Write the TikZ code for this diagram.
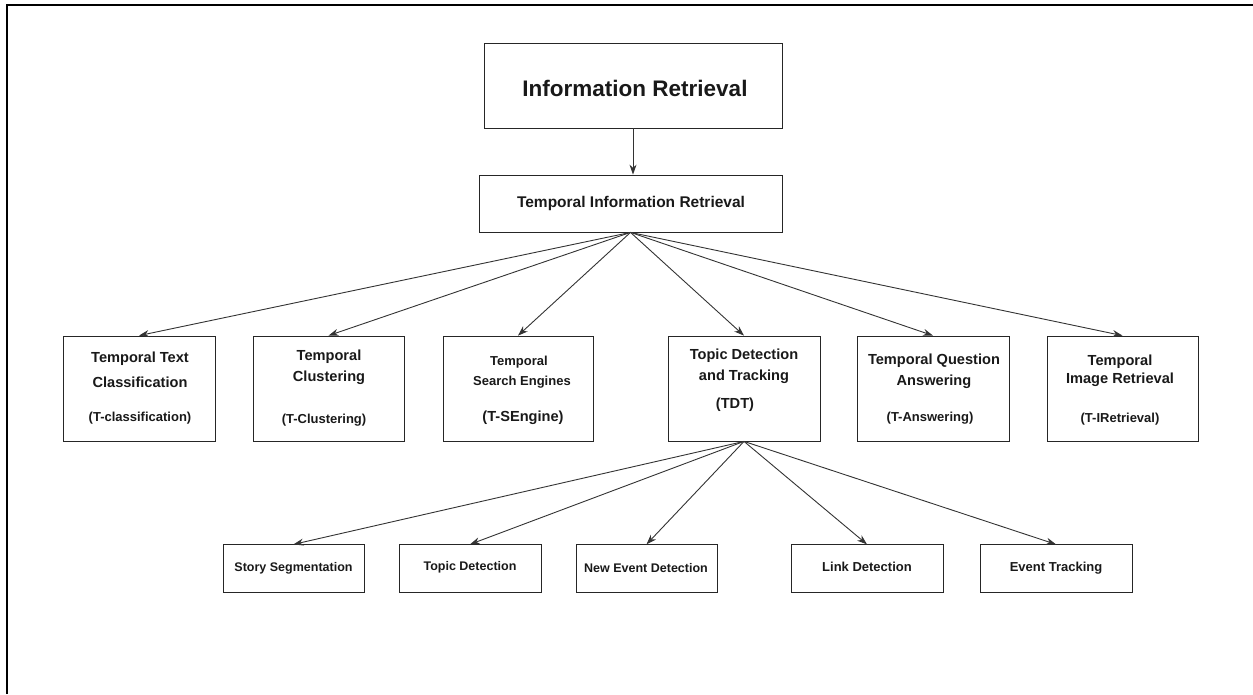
\documentclass[tikz,border=0pt]{standalone}
\usepackage{fontspec}
\setmainfont{Liberation Sans}
\usetikzlibrary{arrows.meta}
\begin{document}
\begin{tikzpicture}[x=1pt,y=-1pt,
  box/.style={draw=black!85, line width=0.8pt, inner sep=0pt, rectangle},
  arr/.style={draw=black!80, line width=0.9pt, -{Stealth[length=10pt,width=7pt]}},
  big/.style={font=\bfseries\fontsize{22.5}{26}\selectfont, text=black!90},
  mid/.style={font=\bfseries\fontsize{15.5}{18}\selectfont, text=black!90},
  lab/.style={font=\bfseries\fontsize{14.6}{17}\selectfont, text=black!90},
  sml/.style={font=\bfseries\fontsize{13}{15}\selectfont, text=black!90},
  tiny/.style={font=\bfseries\fontsize{12.5}{15}\selectfont, text=black!90}]
\useasboundingbox (0,0) rectangle (1253,694);
\draw[line width=1.5pt] (7,694) -- (7,5) -- (1253,5);

% top boxes
\node[box, minimum width=298pt, minimum height=85pt] (ir) at (633,85.5) {};
\node[big] (irt) at (635,88) {Information Retrieval};
\node[box, minimum width=303pt, minimum height=57pt] (tir) at (630.5,203.5) {};
\node[mid] (tirt) at (631,203) {Temporal Information Retrieval};

% level 2
\foreach \n/\x/\w in {c1/139/152, c2/328.5/151, c3/518/150, c4/744/152, c5/933/152, c6/1122.5/151}
  \node[box, minimum width=\w pt, minimum height=105pt] (\n) at (\x,388.5) {};

\node[lab] (c1a) at (140,359) {Temporal Text};
\node[lab] (c1b) at (140,382) {Classification};
\node[sml] (c1c) at (140,418) {(T-classification)};

\node[lab] (c2a) at (329,357) {Temporal};
\node[lab] (c2b) at (329,378) {Clustering};
\node[sml] (c2c) at (324,420) {(T-Clustering)};

\node[sml] (c3a) at (519,362) {Temporal};
\node[sml] (c3b) at (522,382) {Search Engines};
\node[lab] (c3c) at (523,418) {(T-SEngine)};

\node[lab] (c4a) at (744,356) {Topic Detection};
\node[lab] (c4b) at (744,377) {and Tracking};
\node[lab] (c4c) at (735,405) {(TDT)};

\node[lab] (c5a) at (934,361) {Temporal Question};
\node[lab] (c5b) at (934,382) {Answering};
\node[sml] (c5c) at (930,418) {(T-Answering)};

\node[lab] (c6a) at (1120,362) {Temporal};
\node[lab] (c6b) at (1120,380) {Image Retrieval};
\node[sml] (c6c) at (1120,419) {(T-IRetrieval)};

% level 3
\foreach \n/\x/\w in {s1/293.5/141, s2/470/142, s3/646.5/141, s4/867/152, s5/1056/152}
  \node[box, minimum width=\w pt, minimum height=47.5pt] (\n) at (\x,568.5) {};
\node[tiny] (s1t) at (293.5,568) {Story Segmentation};
\node[tiny] (s2t) at (470,567) {Topic Detection};
\node[tiny] (s3t) at (646,568) {New Event Detection};
\node[sml] (s4t) at (867,567) {Link Detection};
\node[sml] (s5t) at (1056,568) {Event Tracking};

% connectors
\draw[arr] (ir.south) -- (ir.south |- tir.north);
\foreach \n in {c1,c2,c3,c4,c5,c6}
  \draw[arr] (tir.south) -- (\n.north);
\foreach \n in {s1,s2,s3,s4,s5}
  \draw[arr] (c4.south) -- (\n.north);
\end{tikzpicture}
\end{document}
